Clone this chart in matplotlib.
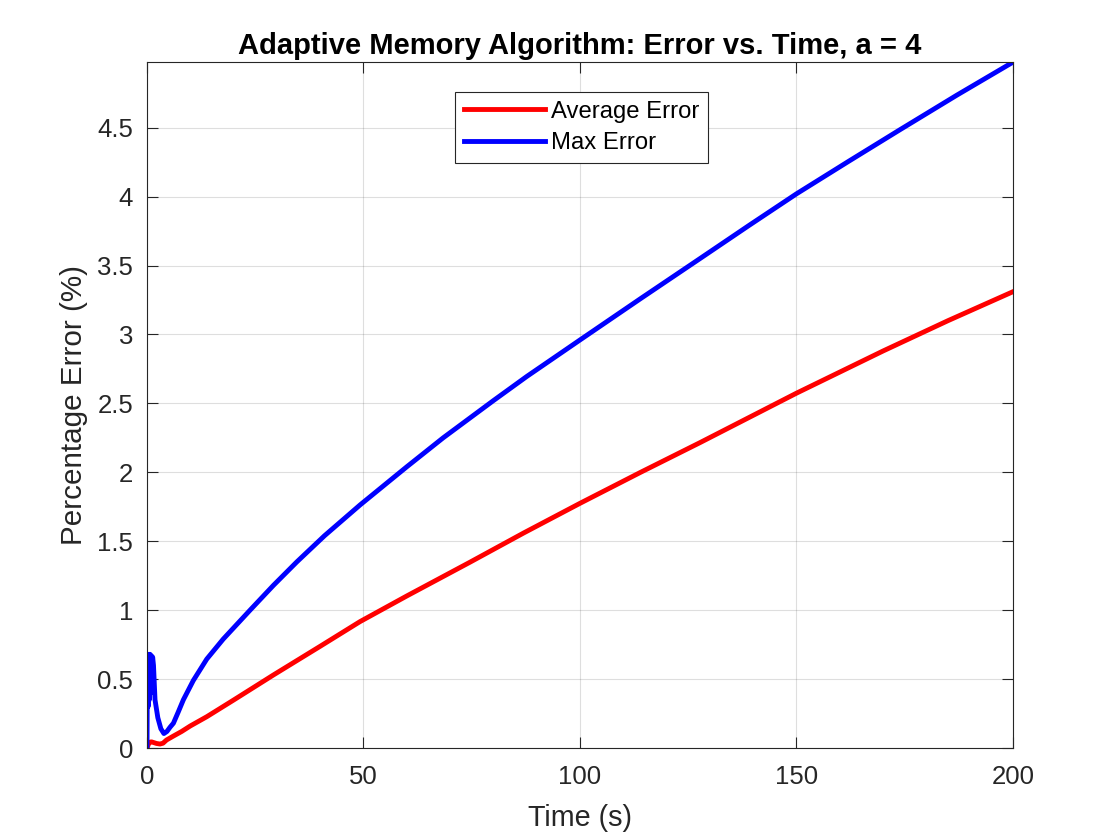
import matplotlib
matplotlib.use("Agg")
import matplotlib.pyplot as plt

# Data
time_max = [0, 0.1, 0.25, 0.4, 0.55, 0.7, 0.85, 1.0, 1.15, 1.3, 1.5, 1.85, 2.5, 3.2, 3.9,
            4.6, 5.3, 6.1, 7.2, 8.4, 10.7, 13.8, 17.6, 23.8, 29.2, 34.6, 41, 49.2, 60,
            68.4, 80, 87.7, 100, 114, 127.7, 139, 150, 162, 173.9, 187, 200]
max_err = [0, 0.68, 0.3, 0.68, 0.35, 0.68, 0.4, 0.67, 0.45, 0.66, 0.6, 0.35, 0.22, 0.14, 0.105,
           0.12, 0.15, 0.18, 0.26, 0.35, 0.49, 0.645, 0.79, 1.0, 1.18, 1.35, 1.54, 1.763, 2.04,
           2.25, 2.52, 2.695, 2.96, 3.26, 3.55, 3.79, 4.02, 4.255, 4.485, 4.735, 4.975]

time_avg = [0, 0.5, 1.0, 1.5, 2.2, 3.0, 3.7, 4.5, 6, 8, 10, 13.8, 20, 29.2, 40, 49.2, 60,
            74.6, 87, 100, 114, 127.7, 150, 170, 185, 200]
avg_err = [0.0, 0.04, 0.045, 0.04, 0.033, 0.029, 0.035, 0.058, 0.085, 0.12, 0.16, 0.227, 0.348,
           0.53, 0.738, 0.917, 1.103, 1.348, 1.56, 1.775, 2.0, 2.215, 2.574, 2.88, 3.1, 3.31]

x_ticks = [0, 50, 100, 150, 200]
y_ticks = [0, 0.5, 1, 1.5, 2, 2.5, 3, 3.5, 4, 4.5]
y_tick_labels = ["0", "0.5", "1", "1.5", "2", "2.5", "3", "3.5", "4", "4.5"]

plt.rcParams['font.family'] = ['Liberation Sans', 'DejaVu Sans']
dark = (0.15, 0.15, 0.15)

fig = plt.figure(figsize=(11.2, 8.4), dpi=100)
ax = fig.add_axes([0.13125, 0.1095, 0.7732, 0.8165])

ax.plot(time_avg, avg_err, color='#ff0000', lw=3.5, label='Average Error', solid_joinstyle='round')
ax.plot(time_max, max_err, color='#0000ff', lw=3.5, label='Max Error', solid_joinstyle='round')

ax.set_xlim(0, 200)
ax.set_ylim(0, 4.975)
ax.set_xticks(x_ticks)
ax.set_xticklabels([str(v) for v in x_ticks])
ax.set_yticks(y_ticks)
ax.set_yticklabels(y_tick_labels)
ax.grid(True, color=(0.15, 0.15, 0.15), alpha=0.15, lw=0.8)
ax.set_axisbelow(True)

for s in ax.spines.values():
    s.set_color(dark)
    s.set_linewidth(0.8)
ax.tick_params(direction='in', length=8, width=0.8, colors=dark, labelsize=18.5,
               top=True, right=True, pad=10)
ax.tick_params(axis='x', pad=12)

ax.set_xlabel('Time (s)', fontsize=20.7, color=dark, labelpad=11)
ax.set_ylabel('Percentage Error (%)', fontsize=21.3, color=dark, labelpad=6.5)
ax.set_title('Adaptive Memory Algorithm: Error vs. Time, a = 4', fontsize=21,
             fontweight='bold', color='black', pad=6)

leg = ax.legend(loc='upper center', bbox_to_anchor=(0.502, 0.9565), fontsize=17.2,
                frameon=True, fancybox=False, edgecolor=dark, framealpha=1,
                handlelength=3.4, handletextpad=0.25, borderpad=0.36, labelspacing=0.4,
                borderaxespad=0)
leg.get_frame().set_linewidth(0.8)

fig.savefig('out.png', dpi=100, facecolor='white')
